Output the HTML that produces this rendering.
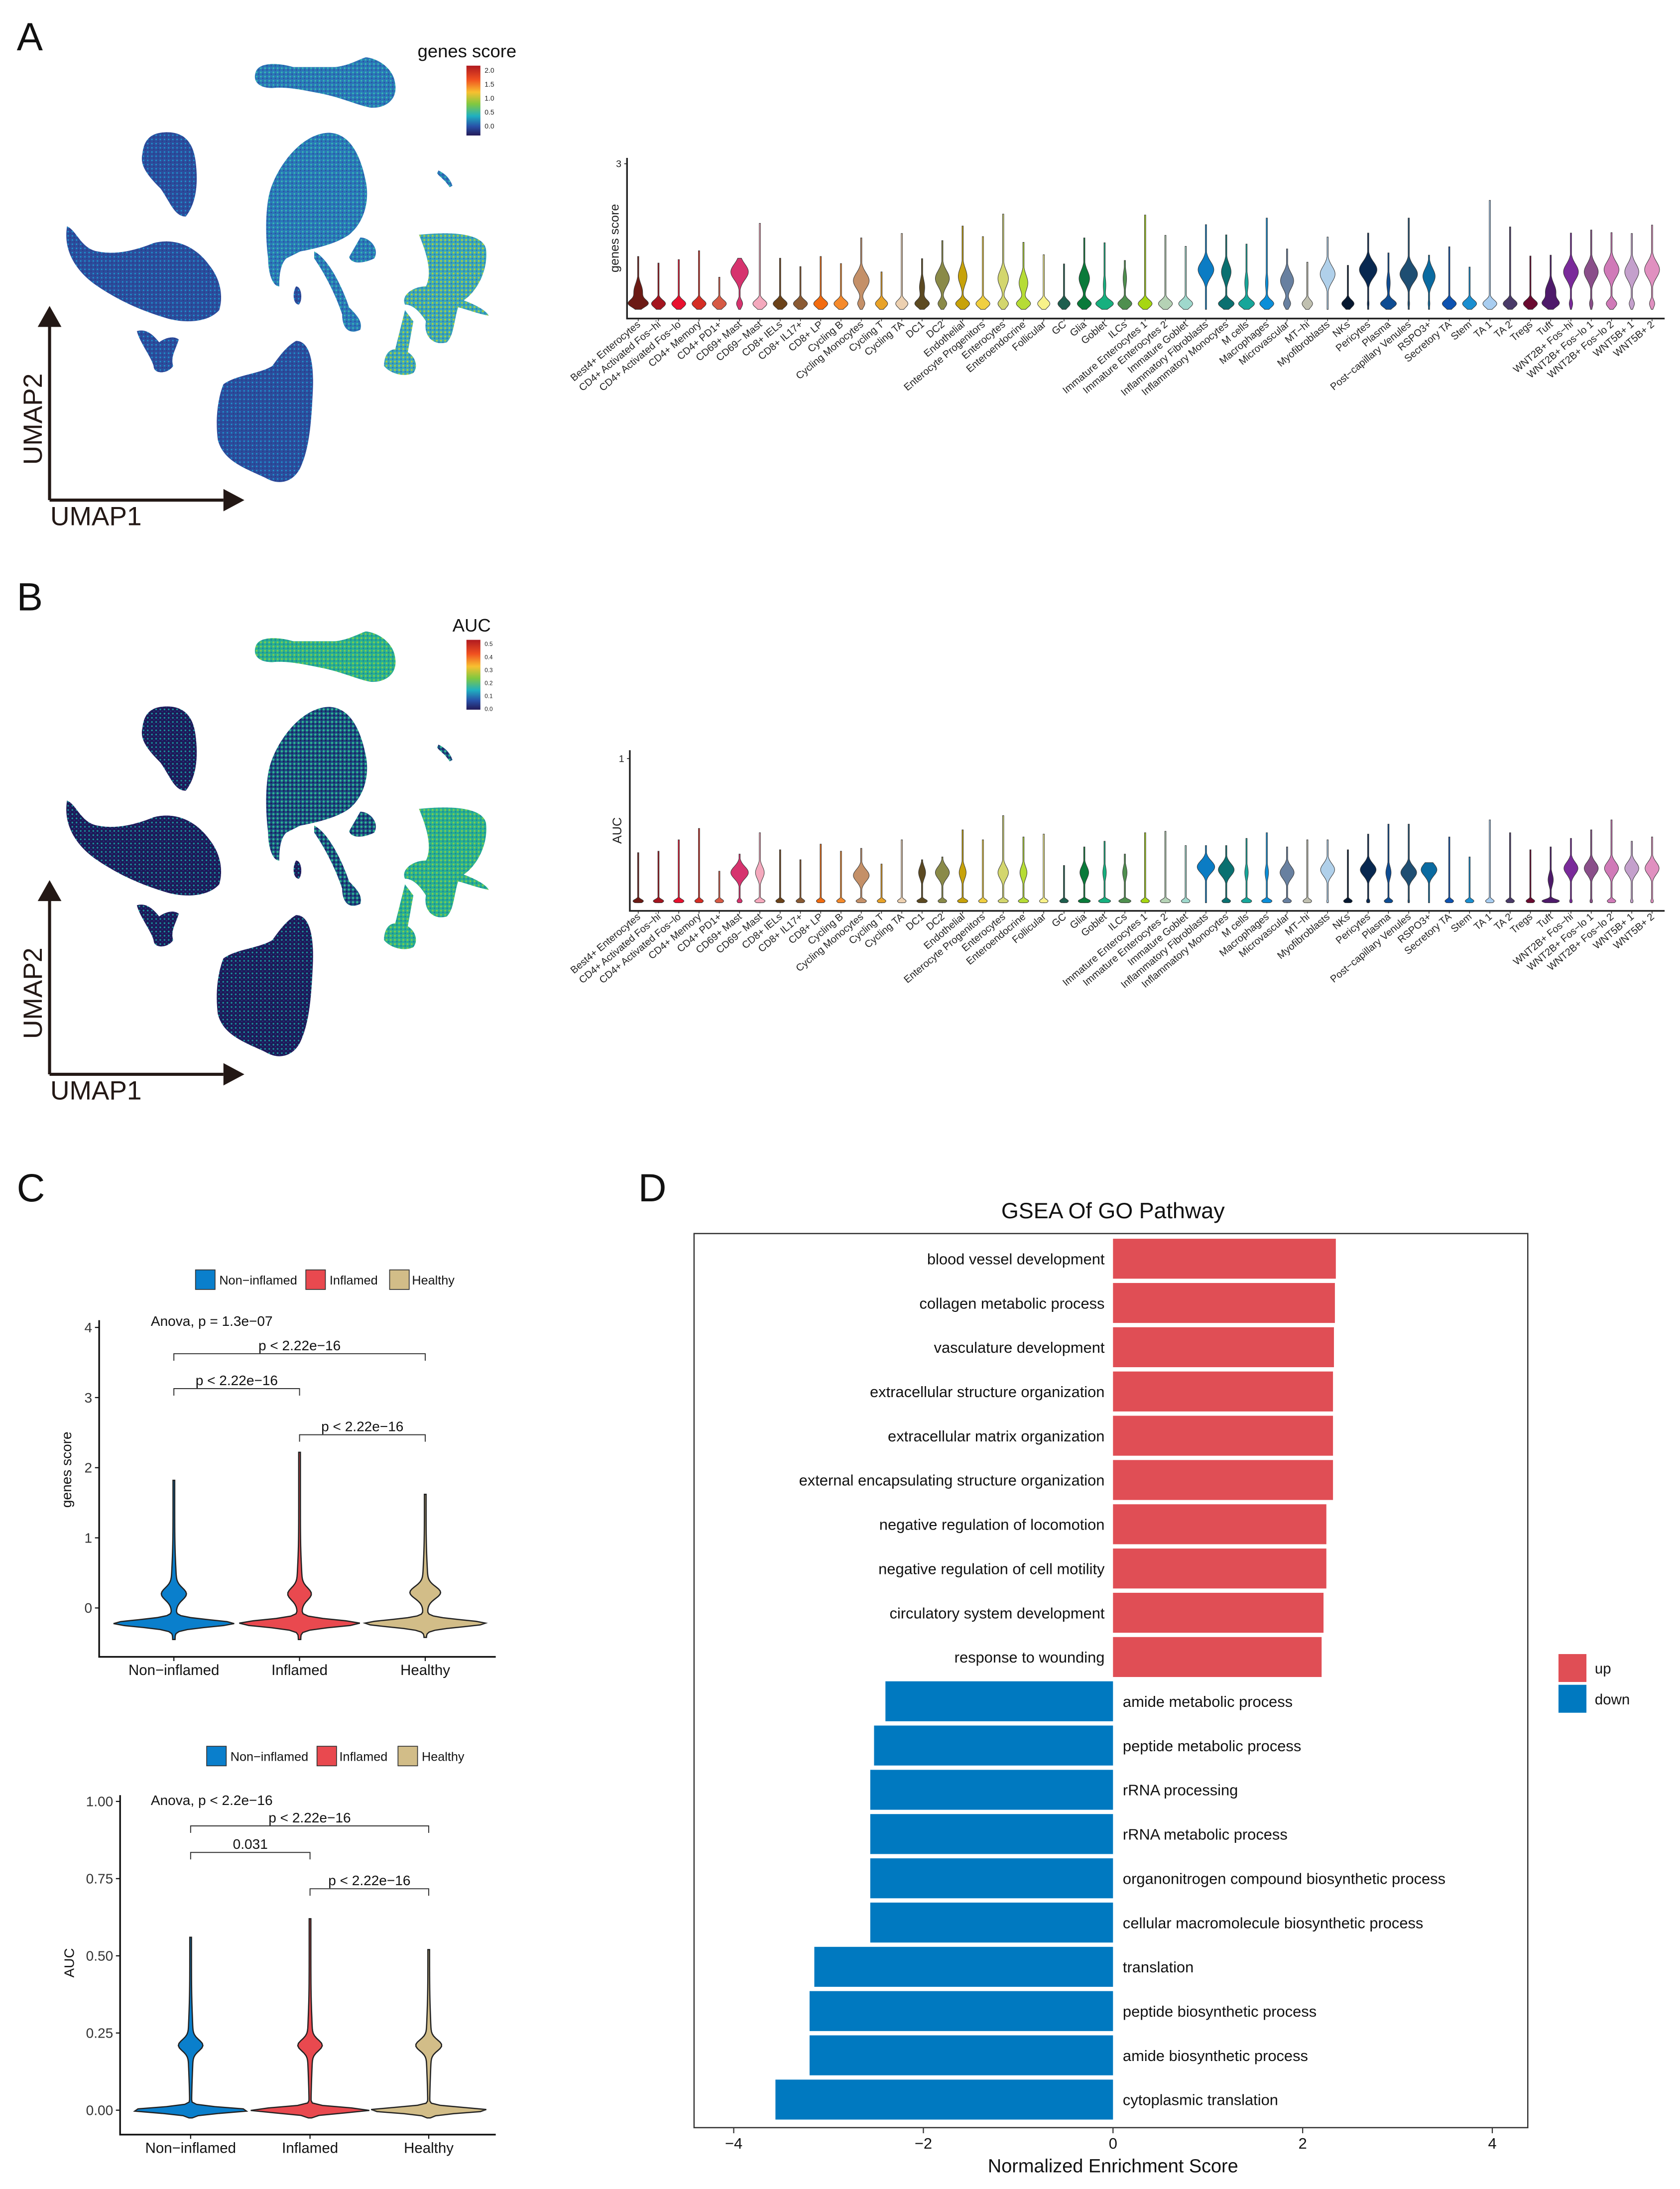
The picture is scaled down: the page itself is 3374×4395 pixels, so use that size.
<!DOCTYPE html>
<html><head><meta charset="utf-8"><style>
html,body{margin:0;padding:0;background:#fff}
svg{display:block;font-family:"Liberation Sans",Arial,sans-serif}
</style></head><body>
<svg id="fig" xmlns="http://www.w3.org/2000/svg" width="3374" height="4395" viewBox="0 0 1200 1563" preserveAspectRatio="none">
<defs>
<pattern id="spA" width="3" height="3" patternUnits="userSpaceOnUse"><rect width="3" height="3" fill="#2c4c9c"/><circle cx="0.8" cy="0.8" r="0.55" fill="#1c9ad0"/><circle cx="2.2" cy="2.1" r="0.4" fill="#23357e"/></pattern>
<pattern id="spA2" width="3" height="3" patternUnits="userSpaceOnUse"><rect width="3" height="3" fill="#2a78b8"/><circle cx="0.8" cy="0.8" r="0.6" fill="#38c0b0"/><circle cx="2.2" cy="2.1" r="0.5" fill="#2c4c9c"/></pattern>
<pattern id="spA3" width="3" height="3" patternUnits="userSpaceOnUse"><rect width="3" height="3" fill="#3aa8b8"/><circle cx="0.8" cy="0.8" r="0.7" fill="#a8d040"/><circle cx="2.2" cy="2.1" r="0.5" fill="#2c70b8"/></pattern>
<pattern id="spB" width="3" height="3" patternUnits="userSpaceOnUse"><rect width="3" height="3" fill="#1c1a58"/><circle cx="0.8" cy="0.8" r="0.6" fill="#1a9aa0"/><circle cx="2.2" cy="2.1" r="0.4" fill="#2a3a8a"/></pattern>
<pattern id="spB2" width="3" height="3" patternUnits="userSpaceOnUse"><rect width="3" height="3" fill="#1a4a80"/><circle cx="0.8" cy="0.8" r="0.8" fill="#30b890"/><circle cx="2.2" cy="2.1" r="0.6" fill="#1c1a58"/></pattern>
<pattern id="spB3" width="3" height="3" patternUnits="userSpaceOnUse"><rect width="3" height="3" fill="#28b090"/><circle cx="0.8" cy="0.8" r="0.7" fill="#7ccc50"/><circle cx="2.2" cy="2.1" r="0.5" fill="#1a7aa0"/></pattern>
<linearGradient id="gA" x1="0" y1="0" x2="0" y2="1"><stop offset="0" stop-color="#b01a20"/><stop offset="0.2" stop-color="#f05020"/><stop offset="0.38" stop-color="#f8c030"/><stop offset="0.55" stop-color="#80c840"/><stop offset="0.72" stop-color="#20b0c0"/><stop offset="0.87" stop-color="#2850a8"/><stop offset="1" stop-color="#241a58"/></linearGradient>
</defs>
<g id="root" transform="scale(0.9975)"></g>
</svg>
<script>
const NS='http://www.w3.org/2000/svg';
const root=document.getElementById('root');
function mk(tag,attrs,parent,txt){const e=document.createElementNS(NS,tag);for(const k in attrs)e.setAttribute(k,attrs[k]);if(txt!==undefined)e.textContent=txt;(parent||root).appendChild(e);return e;}

// ---------- data ----------
const cellTypes=["Best4+ Enterocytes","CD4+ Activated Fos−hi","CD4+ Activated Fos−lo","CD4+ Memory","CD4+ PD1+","CD69+ Mast","CD69− Mast","CD8+ IELs","CD8+ IL17+","CD8+ LP","Cycling B","Cycling Monocytes","Cycling T","Cycling TA","DC1","DC2","Endothelial","Enterocyte Progenitors","Enterocytes","Enteroendocrine","Follicular","GC","Glia","Goblet","ILCs","Immature Enterocytes 1","Immature Enterocytes 2","Immature Goblet","Inflammatory Fibroblasts","Inflammatory Monocytes","M cells","Macrophages","Microvascular","MT−hi","Myofibroblasts","NKs","Pericytes","Plasma","Post−capillary Venules","RSPO3+","Secretory TA","Stem","TA 1","TA 2","Tregs","Tuft","WNT2B+ Fos−hi","WNT2B+ Fos−lo 1","WNT2B+ Fos−lo 2","WNT5B+ 1","WNT5B+ 2"];
const cellColors=["#6b1a14","#a3151f","#e8102e","#d42d24","#d65a45","#d6336e","#f4a9bd","#6b4219","#8a5a33","#f26b0f","#f58a2c","#c49068","#e8a228","#ecd0b0","#5c4a22","#8a8a48","#c7a20a","#f0cf40","#d3d66e","#b6dc36","#f8f28a","#1e5e4e","#0a7a3a","#17b07f","#4f8f4f","#a6d611","#b5d2b5","#9fd8cc","#0b7cc4","#0a7070","#17a69a","#0b8ed8","#6880a0","#c0c0b0","#b0d0ea","#061830","#082850","#0e4c92","#1e4e72","#0a6aa0","#0d52b0","#1a8ed0","#a8cdf0","#4a3a68","#6a0a30","#4e1a6a","#7a2a9a","#8a4e8a","#d07ab8","#c4a0cc","#e090c0"];
const maxA=[.9,.75,.83,1.03,.43,.86,1.65,.86,.67,.9,.74,1.32,.55,1.42,.85,1.26,1.59,1.35,1.86,1.22,.94,.73,1.32,1.21,.81,1.84,1.38,1.13,1.62,1.39,1.18,1.77,1.07,.77,1.34,.7,1.43,.98,1.77,.93,1.12,.66,2.17,1.57,.91,.93,1.43,1.5,1.44,1.42,1.61];
const modeA=[.1,0,0,0,0,.55,0,0,0,0,0,.35,0,0,.2,.4,.45,0,.4,.3,0,0,.4,.25,.4,0,0,0,.6,.55,.3,.3,.35,0,.5,0,.6,.3,.5,.45,0,0,0,0,0,.1,.55,.55,.6,.55,.6];
const upperA=[.5,0,0,0,0,1,0,0,0,0,0,.9,0,0,.3,.8,.5,0,.6,.5,0,0,.6,.15,.2,0,0,0,.9,.55,.2,.15,.75,0,.85,0,1,.2,1,.7,0,0,0,0,0,.6,.85,.8,.85,.8,.85];
const lowerA=[1,.8,.8,.8,.8,.35,.8,.8,.8,.8,.8,.4,.7,.7,.8,.5,.8,.8,.6,.8,.7,.7,.8,1,.8,.8,.8,.8,0,.9,.9,.8,.4,.6,0,.7,.1,.9,.1,.1,.8,.8,.8,.8,.8,.8,.2,.2,.6,.3,.3];
const maxB=[.34,.35,.43,.51,.21,.33,.48,.36,.29,.40,.35,.37,.26,.43,.29,.31,.5,.43,.6,.45,.47,.25,.38,.42,.33,.48,.49,.39,.39,.39,.44,.48,.38,.43,.43,.36,.47,.54,.54,.27,.45,.31,.57,.48,.36,.38,.44,.5,.57,.42,.45];
const modeB=[.22,.22,.22,.22,.22,.2,.2,.22,.22,.22,.22,.18,.22,.22,.2,.2,.2,.22,.2,.2,.22,.22,.2,.2,.2,.22,.22,.22,.24,.22,.2,.2,.2,.22,.22,.22,.22,.2,.2,.22,.22,.22,.22,.22,.22,.15,.23,.23,.23,.23,.23];
const upperB=[0,0,0,0,0,1,.5,0,0,0,0,.9,0,0,.4,.8,.4,0,.6,.4,0,0,.5,.2,.25,0,0,0,1,.9,.2,.2,.8,0,.8,0,.9,.3,.9,.9,0,0,0,0,0,.3,.8,.8,.8,.8,.8];
const lowerB=[.6,.6,.6,.5,.5,.3,.6,.5,.5,.5,.5,.6,.5,.5,.6,.5,.6,.5,.6,.6,.5,.5,.7,.7,.7,.5,.6,.5,0,.5,.6,.6,.5,.5,.1,.5,.2,.5,.1,0,.5,.5,.5,.5,.5,1,.15,.15,.5,.15,.15];
const ticksA=[3];
const ticksB=[1];

const groups=["Non−inflamed","Inflamed","Healthy"];
const groupColors=["#0a7fcc","#e9494f","#d2bd88"];
const maxC1=[1.82,2.22,1.62];
const minC1=[-0.45,-0.45,-0.42];
const bulbC1=[0.2,0.2,0.22];
const bulbW1=[7,6.5,9];
const ticksC1=[0,1,2,3,4];
const maxC2=[0.56,0.62,0.52];
const bulbC2=[0.21,0.21,0.21];
const ticksC2=[0,0.25,0.5,0.75,1.0];
const tickLabC2=["0.00","0.25","0.50","0.75","1.00"];

const terms=["blood vessel development","collagen metabolic process","vasculature development","extracellular structure organization","extracellular matrix organization","external encapsulating structure organization","negative regulation of locomotion","negative regulation of cell motility","circulatory system development","response to wounding","amide metabolic process","peptide metabolic process","rRNA processing","rRNA metabolic process","organonitrogen compound biosynthetic process","cellular macromolecule biosynthetic process","translation","peptide biosynthetic process","amide biosynthetic process","cytoplasmic translation"];
const nes=[2.35,2.34,2.33,2.32,2.32,2.32,2.25,2.25,2.22,2.20,-2.4,-2.52,-2.56,-2.56,-2.56,-2.56,-3.15,-3.2,-3.2,-3.56];
const nesTicks=[-4,-2,0,2,4];

// ---------- panel letters ----------
[["A",12,36,"panel-label-a"],["B",12,437,"panel-label-b"],["C",12,860,"panel-label-c"],["D",457,860,"panel-label-d"]].forEach(p=>{
  const t=mk('text',{x:p[1],y:p[2],'font-size':28,fill:'#111'},root,p[0]);
  
  
});

// ---------- UMAPs ----------
const blobs=[
 ["M183,52 C185,44 200,45 210,48 L240,48 C250,47 258,42 262,41 C272,42 282,50 283,60 C285,72 275,78 265,77 C255,75 245,70 230,67 C215,64 205,62 195,63 C185,63 181,58 183,52 Z",1,2],
 ["M115,95 C130,93 138,100 140,115 C142,130 141,145 133,155 C125,155 122,145 115,135 C105,125 100,118 102,110 C103,100 108,96 115,95 Z",0,0],
 ["M48,162 C55,165 58,178 70,180 C85,183 100,178 110,174 C125,170 140,176 150,190 C158,200 160,212 157,222 C150,230 135,232 120,228 C100,222 85,215 70,205 C55,195 45,180 48,162 Z",0,0],
 ["M98,237 C105,235 110,240 114,245 C118,242 124,240 128,243 C126,250 122,255 124,262 C120,268 110,268 110,262 C108,255 100,245 98,237 Z",0,0],
 ["M235,95 C250,95 258,110 262,130 C265,145 260,160 250,168 C240,175 225,178 215,180 L205,185 C200,190 200,200 200,205 C195,205 192,195 192,185 C190,170 190,150 193,138 C198,120 215,96 235,95 Z",1,1],
 ["M225,180 C235,185 245,205 250,220 C255,225 260,230 258,236 C250,240 245,235 245,225 C240,210 232,195 225,185 Z",1,1],
 ["M258,170 C265,170 272,178 268,185 C262,188 252,190 250,184 Z",1,1],
 ["M212,205 C216,205 217,215 214,218 C210,218 209,210 212,205 Z",0,0],
 ["M212,244 C222,244 225,260 224,280 C223,300 222,320 215,335 C210,345 200,348 190,342 C175,335 160,330 156,315 C154,300 156,285 160,275 C170,268 185,268 195,262 C200,255 205,248 212,244 Z",0,0],
 ["M300,168 C320,166 345,166 348,178 C350,195 340,210 332,215 C340,218 348,222 350,226 C340,224 330,220 328,220 C325,230 325,240 320,245 C310,248 303,240 305,230 C300,222 295,218 290,218 C287,212 295,205 305,205 C310,195 305,180 300,168 Z",2,2],
 ["M290,222 L296,230 L292,252 C297,255 300,262 296,267 C290,270 280,268 275,262 C275,255 278,250 283,250 L288,230 Z",2,2],
 ["M314,122 C318,124 322,127 324,133 L322,134 C318,128 315,127 313,124 Z",1,1]
];
const pats=[["spA","spA2","spA3"],["spB","spB2","spB3"]];
function umap(panel,dy,title,ticks,nm){
  const g=mk('g',{transform:`translate(0,${dy})`});
  
  
  blobs.forEach((b,i)=>{
    const p=mk('path',{d:b[0],fill:`url(#${pats[panel][panel===0?b[1]:b[2]]})`},g);
    
    
  });
  const ax=mk('path',{d:'M35.5,358 L35.5,228 M35.5,358 L160,358',stroke:'#231815','stroke-width':2.2,fill:'none'},g);
  
  
  const h1=mk('path',{d:'M27,234 L35.5,219 L44,234 Z M160,350 L175,358 L160,366 Z',fill:'#231815'},g);
  
  
  const u2=mk('text',{x:0,y:0,transform:'translate(30,300) rotate(-90)','text-anchor':'middle','font-size':19,fill:'#231815'},g,'UMAP2');
  
  
  const u1=mk('text',{x:36,y:376,'font-size':19,fill:'#231815'},g,'UMAP1');
  
  
  const lt=mk('text',{x:panel===0?299:324,y:41,'font-size':13,fill:'#111'},g,title);
  
  
  const cb=mk('rect',{x:334,y:47,width:10,height:50,fill:'url(#gA)'},g);
  
  
  ticks.forEach((t,i)=>{
    const y=panel===0?50+i*10:49.5+i*9.3;
    const tt=mk('text',{x:347,y:y+2,'font-size':panel===0?5:4.2,fill:'#222'},g,t);
    
    
  });
}
umap(0,0,'genes score',["2.0","1.5","1.0","0.5","0.0"],'panel-a');
umap(1,411,'AUC',["0.5","0.4","0.3","0.2","0.1","0.0"],'panel-b');

// ---------- violin helper ----------
function violinPath(cx,yfn,wfn,vmin,vmax){
  const N=80;const R=[],L=[];
  for(let i=0;i<=N;i++){const v=vmin+(vmax-vmin)*i/N;const w=wfn(v);R.push([cx+w,yfn(v)]);L.push([cx-w,yfn(v)]);}
  let d='M'+cx+','+yfn(vmin);
  R.forEach(p=>d+=' L'+p[0].toFixed(2)+','+p[1].toFixed(2));
  L.reverse().forEach(p=>d+=' L'+p[0].toFixed(2)+','+p[1].toFixed(2));
  return d+' Z';
}
const gauss=(v,m,s)=>Math.exp(-(((v-m)/s)**2));

// ---------- panel A/B violins ----------
function cellViolins(cfg){
  const g=mk('g',{});
  
  
  const x0=457,step=(1183-457)/(cellTypes.length-1);
  const xs=i=>x0+i*step;
  const ys=v=>cfg.y0-v*cfg.k;
  const ax=mk('path',{d:`M${cfg.axX},${cfg.top} L${cfg.axX},${cfg.bot} L1192,${cfg.bot}`,stroke:'#222','stroke-width':cfg.bw,fill:'none'},g);
  
  
  cfg.ticks.forEach(t=>{
    const tk=mk('line',{x1:cfg.axX-2,x2:cfg.axX,y1:ys(t),y2:ys(t),stroke:'#222','stroke-width':0.6},g);
    
    
    const tl=mk('text',{x:cfg.axX-4,y:ys(t)+2.5,'text-anchor':'end','font-size':7,fill:'#222'},g,String(t));
    
    
  });
  const yl=mk('text',{transform:`translate(${cfg.axX-6},${(cfg.top+cfg.bot)/2}) rotate(-90)`,'text-anchor':'middle','font-size':9,fill:'#222'},g,cfg.ylab);
  
  
  cellTypes.forEach((c,i)=>{
    const cx=xs(i);
    const wfn=v=>Math.max(cfg.lower[i]*cfg.W*gauss(v,cfg.lowM,cfg.sL)+cfg.upper[i]*cfg.W*gauss(v,cfg.mode[i],cfg.sH),0.45);
    const p=mk('path',{d:violinPath(cx,ys,wfn,cfg.vmin,cfg.max[i]),fill:cellColors[i],stroke:'#333','stroke-width':0.35},g);
    
    
    const tk=mk('line',{x1:cx,x2:cx,y1:cfg.bot,y2:cfg.bot+2,stroke:'#222','stroke-width':0.5},g);
    
    
    const tl=mk('text',{transform:`translate(${cx+2},${cfg.bot+5}) rotate(-40)`,'text-anchor':'end','font-size':7.2,fill:'#222'},g,c);
    
    
  });
}
cellViolins({name:'panel-a-violins',y0:212,k:31.6,axX:449,top:113,bot:228,bw:1.2,ticks:ticksA,ylab:'genes score',max:maxA,mode:modeA,upper:upperA,lower:lowerA,W:6.3,lowM:-0.17,sL:0.12,sH:0.25,vmin:-0.3});
cellViolins({name:'panel-b-violins',y0:645,k:102,axX:451,top:537,bot:652,bw:1.2,ticks:ticksB,ylab:'AUC',max:maxB,mode:modeB,upper:upperB,lower:lowerB,W:6.3,lowM:0.0,sL:0.018,sH:0.06,vmin:-0.012});

// ---------- panel C ----------
function groupViolins(cfg){
  const g=mk('g',{});
  
  
  const ys=v=>cfg.y0-v*cfg.k;
  const ax=mk('path',{d:`M${cfg.axX},${cfg.top} L${cfg.axX},${cfg.bot} L${cfg.right},${cfg.bot}`,stroke:'#111','stroke-width':1.2,fill:'none'},g);
  
  
  cfg.ticks.forEach((t,i)=>{
    const tk=mk('line',{x1:cfg.axX-3,x2:cfg.axX,y1:ys(t),y2:ys(t),stroke:'#111','stroke-width':0.8},g);
    
    
    const tl=mk('text',{x:cfg.axX-5,y:ys(t)+3.5,'text-anchor':'end','font-size':10,fill:'#333'},g,cfg.tickLab?cfg.tickLab[i]:String(t));
    
    
  });
  const yl=mk('text',{transform:`translate(${cfg.ylx},${cfg.yly}) rotate(-90)`,'text-anchor':'middle','font-size':10,fill:'#111'},g,cfg.ylab);
  
  
  cfg.leg.forEach((lx,i)=>{
    const r=mk('rect',{x:lx[0],y:cfg.legY,width:14,height:14,fill:groupColors[i],stroke:'#333','stroke-width':0.6},g);
    
    
    const t=mk('text',{x:lx[1],y:cfg.legY+10.5,'font-size':9,fill:'#111'},g,groups[i]);
    
    
  });
  const an=mk('text',{x:108,y:cfg.anovaY,'font-size':10,fill:'#111'},g,cfg.anova);
  
  
  cfg.brackets.forEach(b=>{
    const x1=cfg.xs[b[0]],x2=cfg.xs[b[1]];
    const p=mk('path',{d:`M${x1},${b[2]+5} L${x1},${b[2]} L${x2},${b[2]} L${x2},${b[2]+5}`,stroke:'#333','stroke-width':0.7,fill:'none'},g);
    
    
    const t=mk('text',{x:(x1+x2)/2,y:b[2]-2.5,'text-anchor':'middle','font-size':10,fill:'#111'},g,b[3]);
    
    
  });
  groups.forEach((c,i)=>{
    const cx=cfg.xs[i];
    const wfn=v=>42*gauss(v,cfg.base,cfg.s0)+cfg.bw[i]*gauss(v,cfg.bulb[i],cfg.s1)+cfg.mid*gauss(v,cfg.bulb[i],cfg.s2)+0.6;
    const p=mk('path',{d:violinPath(cx,ys,wfn,cfg.min[i],cfg.max[i]),fill:groupColors[i],stroke:'#222','stroke-width':0.9},g);
    
    
    const tk=mk('line',{x1:cx,x2:cx,y1:cfg.bot,y2:cfg.bot+3,stroke:'#111','stroke-width':0.8},g);
    
    
    const tl=mk('text',{x:cx,y:cfg.bot+13,'text-anchor':'middle','font-size':10.5,fill:'#111'},g,c);
    
    
  });
}
groupViolins({name:'panel-c-genes-score',y0:1151,k:50.2,axX:71,top:945,bot:1186,right:355,ticks:ticksC1,ylab:'genes score',ylx:51,yly:1052,
  leg:[[140,157],[219,236],[279,295]],legY:909,anova:'Anova, p = 1.3e−07',anovaY:949,xs:[124.5,214.5,304.5],
  brackets:[[0,2,969,'p < 2.22e−16'],[0,1,994,'p < 2.22e−16'],[1,2,1027,'p < 2.22e−16']],
  max:maxC1,min:minC1,bulb:bulbC1,bw:bulbW1,base:-0.22,s0:0.07,s1:0.12,s2:0.5,mid:1.4});
groupViolins({name:'panel-c-auc',y0:1510.5,k:221,axX:86,top:1285,bot:1528,right:355,ticks:ticksC2,tickLab:tickLabC2,ylab:'AUC',ylx:53,yly:1405,
  leg:[[148,165],[227,243],[285,302]],legY:1250,anova:'Anova, p < 2.2e−16',anovaY:1292,xs:[136.5,222,307],
  brackets:[[0,2,1307,'p < 2.22e−16'],[0,1,1326,'0.031'],[1,2,1352,'p < 2.22e−16']],
  max:maxC2,min:[-0.025,-0.025,-0.025],bulb:bulbC2,bw:[7,7,7.5],base:0.0,s0:0.012,s1:0.025,s2:0.12,mid:1.2});

// ---------- panel D ----------
(function(){
  const g=mk('g',{});
  
  
  const xs=v=>797+v*67.9;
  const ys=i=>901+i*31.68;
  const t=mk('text',{x:797,y:872,'text-anchor':'middle','font-size':16,fill:'#111'},g,'GSEA Of GO Pathway');
  
  
  const box=mk('rect',{x:497,y:883,width:597,height:640,fill:'none',stroke:'#333','stroke-width':0.9},g);
  
  
  terms.forEach((term,i)=>{
    const v=nes[i];
    const up=v>0;
    const r=mk('rect',{x:Math.min(xs(0),xs(v)),y:ys(i)-14.3,width:Math.abs(xs(v)-xs(0)),height:28.6,fill:up?'#e04e55':'#0079c0'},g);
    
    
    const tl=mk('text',{x:up?xs(0)-6:xs(0)+7,y:ys(i)+4,'text-anchor':up?'end':'start','font-size':11,fill:'#111'},g,term);
    
    
  });
  nesTicks.forEach(v=>{
    const tk=mk('line',{x1:xs(v),x2:xs(v),y1:1523,y2:1527,stroke:'#333','stroke-width':0.8},g);
    
    
    const tl=mk('text',{x:xs(v),y:1538,'text-anchor':'middle','font-size':11,fill:'#111'},g,v<0?'−'+Math.abs(v):String(v));
    
    
  });
  const xl=mk('text',{x:797,y:1555,'text-anchor':'middle','font-size':13.5,fill:'#111'},g,'Normalized Enrichment Score');
  
  
  [['up','#e04e55',1184],['down','#0079c0',1206]].forEach(l=>{
    const r=mk('rect',{x:1116,y:l[2],width:20,height:20,fill:l[1]},g);
    
    
    const tx=mk('text',{x:1142,y:l[2]+14,'font-size':10.5,fill:'#111'},g,l[0]);
    
    
  });
})();
</script>
</body></html>
